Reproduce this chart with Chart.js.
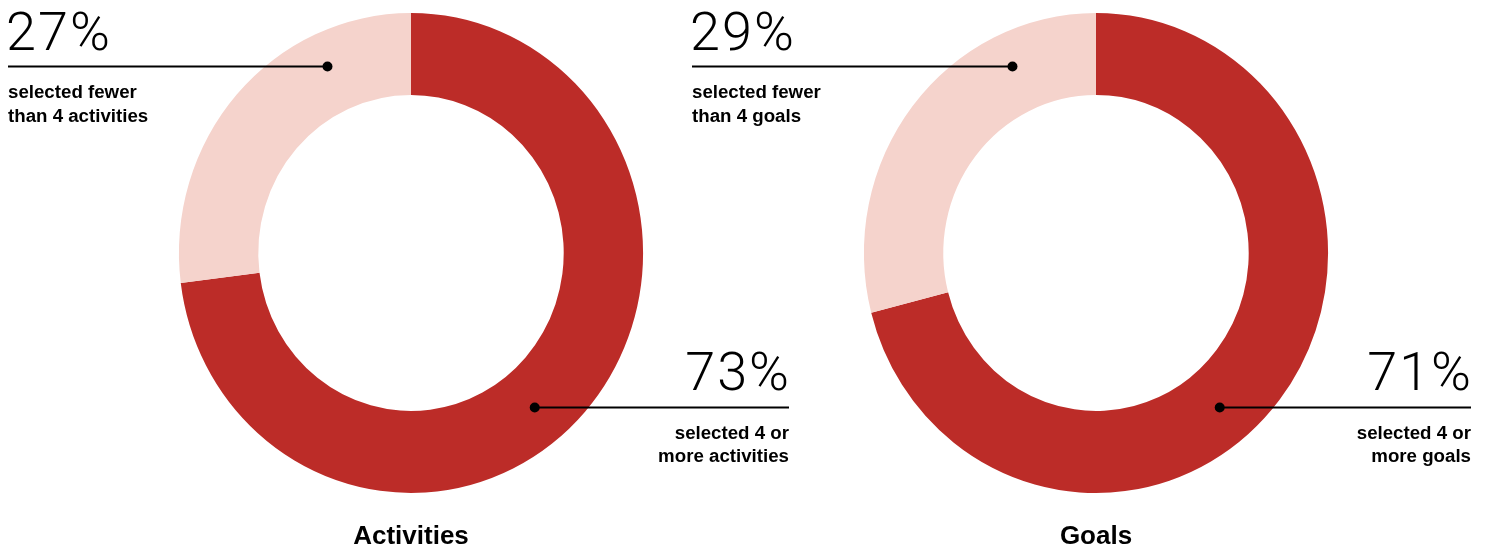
<!DOCTYPE html>
<html>
<head>
<meta charset="utf-8">
<script src="https://cdn.jsdelivr.net/npm/chart.js@4/dist/chart.umd.min.js"></script>
<style>
  html, body { margin: 0; padding: 0; background: #fff; }
  #wrap { position: relative; width: 1489px; height: 548px; overflow: hidden; }
  #wrap canvas { position: absolute; left: 0; top: 0; }
</style>
</head>
<body>
<div id="wrap">
  <canvas id="activities"></canvas>
  <canvas id="goals"></canvas>
</div>
<script>
// Survey results: share of respondents by how many items they selected
const categories = ['Activities', 'Goals'];
const fourOrMore = [73, 71];
const fewerThanFour = [27, 29];
const fewerCaptions = [['selected fewer', 'than 4 activities'], ['selected fewer', 'than 4 goals']];
const moreCaptions = [['selected 4 or', 'more activities'], ['selected 4 or', 'more goals']];

const DARK = '#BC2C28';
const LIGHT = '#F5D3CC';
const INK = '#000000';
const SX = 0.967; // slight horizontal compression of the rings

const W = 1489, H = 548;
const centers = [411, 1096];
const textLeft = [8, 692];
const textRight = [789, 1471];

const BIG_FONT = '300 54px Roboto';
const BIG_SPACING = '2px';
const SMALL_FONT = 'bold 18.7px "Liberation Sans"';
const TITLE_FONT = 'bold 26px "Liberation Sans"';

// compress the ring horizontally around its own centre
const squish = {
  id: 'squish',
  beforeDatasetsDraw(chart) {
    const arc = chart.getDatasetMeta(0).data[0];
    const ctx = chart.ctx;
    ctx.save();
    ctx.translate(arc.x, 0);
    ctx.scale(SX, 1);
    ctx.translate(-arc.x, 0);
  },
  afterDatasetsDraw(chart) {
    chart.ctx.restore();
  }
};

// point inside a segment's band at a given height, on the requested side
function bandPoint(arc, y, side, depth) {
  const r = arc.innerRadius + depth * (arc.outerRadius - arc.innerRadius);
  const dy = y - arc.y;
  const dx = Math.sqrt(Math.max(r * r - dy * dy, 0)) * side;
  return { x: arc.x + dx * SX, y };
}

function bigText(ctx, text, x, y, align) {
  ctx.save();
  ctx.font = BIG_FONT;
  ctx.letterSpacing = BIG_SPACING;
  ctx.textAlign = 'left';
  const w = ctx.measureText(text).width;
  const startX = align === 'right' ? x - w + 2 : x;
  ctx.fillText(text, startX, y);
  ctx.restore();
}

const callouts = {
  id: 'callouts',
  afterDraw(chart, args, opts) {
    const ctx = chart.ctx;
    const meta = chart.getDatasetMeta(0);
    const darkArc = meta.data[0];
    const lightArc = meta.data[1];
    const ds = chart.data.datasets[0].data;
    ctx.save();
    ctx.fillStyle = INK;
    ctx.strokeStyle = INK;
    ctx.lineWidth = 2.2;

    // upper callout: smaller share
    const topY = 66.5;
    const p1 = bandPoint(lightArc, topY, -1, 0.58);
    ctx.beginPath();
    ctx.moveTo(opts.left, topY);
    ctx.lineTo(p1.x, topY);
    ctx.stroke();
    ctx.beginPath();
    ctx.arc(p1.x, topY, 5, 0, Math.PI * 2);
    ctx.fill();
    ctx.textBaseline = 'alphabetic';
    bigText(ctx, ds[1] + '%', opts.left - 2, 50, 'left');
    ctx.textAlign = 'left';
    ctx.font = SMALL_FONT;
    ctx.fillText(opts.fewer[0], opts.left, 98);
    ctx.fillText(opts.fewer[1], opts.left, 121.5);

    // lower callout: larger share
    const botY = 407.5;
    const p2 = bandPoint(darkArc, botY, 1, 0.52);
    ctx.beginPath();
    ctx.moveTo(p2.x, botY);
    ctx.lineTo(opts.right, botY);
    ctx.stroke();
    ctx.beginPath();
    ctx.arc(p2.x, botY, 5, 0, Math.PI * 2);
    ctx.fill();
    bigText(ctx, ds[0] + '%', opts.right, 389.5, 'right');
    ctx.textAlign = 'right';
    ctx.font = SMALL_FONT;
    ctx.fillText(opts.more[0], opts.right, 439);
    ctx.fillText(opts.more[1], opts.right, 462);

    // chart caption under the ring
    ctx.textAlign = 'center';
    ctx.font = TITLE_FONT;
    ctx.fillText(opts.title, darkArc.x, 544);
    ctx.restore();
  }
};

function makeChart(id, i) {
  const cx = centers[i];
  new Chart(document.getElementById(id), {
    type: 'doughnut',
    data: {
      labels: ['4 or more', 'fewer than 4'],
      datasets: [{
        data: [fourOrMore[i], fewerThanFour[i]],
        backgroundColor: [DARK, LIGHT],
        borderWidth: 0,
        hoverOffset: 0
      }]
    },
    options: {
      responsive: false,
      animation: false,
      devicePixelRatio: 1,
      cutout: '65.8%',
      rotation: 0,
      layout: { padding: { top: 13, bottom: H - 493, left: cx - 240, right: W - (cx + 240) } },
      events: [],
      plugins: {
        legend: { display: false },
        tooltip: { enabled: false },
        callouts: {
          left: textLeft[i],
          right: textRight[i],
          fewer: fewerCaptions[i],
          more: moreCaptions[i],
          title: categories[i]
        }
      }
    },
    plugins: [squish, callouts]
  });
}

['activities', 'goals'].forEach((id, i) => {
  const c = document.getElementById(id);
  c.width = W;
  c.height = H;
  c.style.width = W + 'px';
  c.style.height = H + 'px';
  makeChart(id, i);
});
</script>
</body>
</html>
